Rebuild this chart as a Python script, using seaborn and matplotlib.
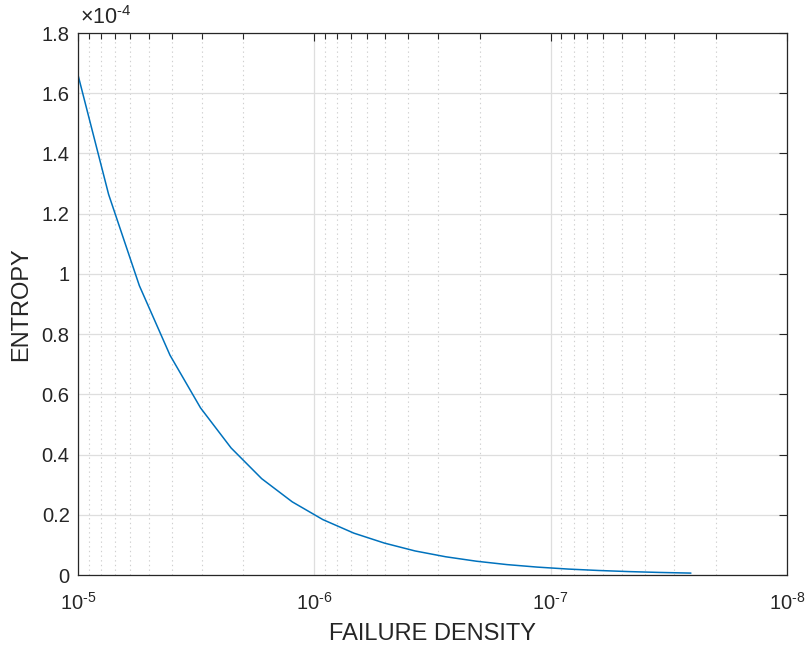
import numpy as np
import pandas as pd
import matplotlib
matplotlib.use('Agg')
import matplotlib.pyplot as plt
import matplotlib.ticker as mticker
import seaborn as sns

# values (failure density, entropy)
failure_density = [1.0e-5, 7.42e-6, 5.5e-6, 4.08e-6, 3.03e-6, 2.25e-6, 1.67e-6,
                   1.24e-6, 9.2e-7, 6.8e-7, 5.05e-7, 3.75e-7, 2.78e-7, 2.06e-7,
                   1.53e-7, 1.14e-7, 8.4e-8, 6.25e-8, 4.64e-8, 3.44e-8, 2.55e-8]
entropy = [1.661e-4, 1.264e-4, 0.961e-4, 0.730e-4, 0.555e-4, 0.422e-4, 0.320e-4,
           0.243e-4, 0.184e-4, 0.139e-4, 0.106e-4, 0.080e-4, 0.0606e-4, 0.0458e-4,
           0.0346e-4, 0.0263e-4, 0.0197e-4, 0.0150e-4, 0.0113e-4, 0.0085e-4, 0.0064e-4]
y_ticks = [0, 0.2e-4, 0.4e-4, 0.6e-4, 0.8e-4, 1.0e-4, 1.2e-4, 1.4e-4, 1.6e-4, 1.8e-4]
x_ticks = [1e-5, 1e-6, 1e-7, 1e-8]

df = pd.DataFrame({'FAILURE DENSITY': failure_density, 'ENTROPY': entropy})

sns.set_style('white')
plt.rcParams['font.family'] = ['Liberation Sans', 'DejaVu Sans']
plt.rcParams['mathtext.fontset'] = 'custom'
plt.rcParams['mathtext.rm'] = 'Liberation Sans'
plt.rcParams['axes.unicode_minus'] = False

dark = '#262626'
fig = plt.figure(figsize=(8.09, 6.45), dpi=100, facecolor='w')
ax = fig.add_axes([0.0964, 0.1085, 0.8764, 0.8403])

sns.lineplot(data=df, x='FAILURE DENSITY', y='ENTROPY', ax=ax, color='#0072BD',
             linewidth=1.1, sort=False, estimator=None)

ax.set_xscale('log')
ax.set_xlim(1e-5, 1e-8)
ax.set_ylim(0, 1.8e-4)

ax.set_yticks(y_ticks)
ax.yaxis.set_major_formatter(mticker.FuncFormatter(lambda v, p: '%g' % round(v * 1e4, 2)))
ax.set_xticks(x_ticks)
ax.xaxis.set_major_formatter(mticker.FuncFormatter(
    lambda v, p: '$\\mathregular{10^{\\text{-}%d}}$' % abs(int(round(np.log10(v))))))
ax.xaxis.set_minor_locator(mticker.LogLocator(base=10, subs=np.arange(2, 10)))
ax.xaxis.set_minor_formatter(mticker.NullFormatter())

# MATLAB-like grid
ax.grid(which='major', axis='both', color='#dedede', linestyle='-', linewidth=0.9)
ax.grid(which='minor', axis='x', color='#cfcfcf', linestyle=(0, (1.2, 3)), linewidth=0.8)
ax.set_axisbelow(True)

for s in ax.spines.values():
    s.set_color(dark)
    s.set_linewidth(0.9)

ax.tick_params(which='both', direction='in', top=True, right=True, colors=dark,
               labelsize=14.5, width=0.8)
ax.tick_params(which='major', length=6, pad=6)
ax.tick_params(which='minor', length=4)
ax.tick_params(axis='x', pad=12)

ax.set_xlabel('FAILURE DENSITY', fontsize=17, color=dark, labelpad=7)
ax.set_ylabel('ENTROPY', fontsize=17, color=dark, labelpad=7)

ax.text(0.003, 1.008, '\u00d710$^{\\mathregular{\\text{-}4}}$', transform=ax.transAxes,
        fontsize=15.5, color=dark, ha='left', va='bottom')

fig.savefig('out.png', dpi=100)
plt.close()
